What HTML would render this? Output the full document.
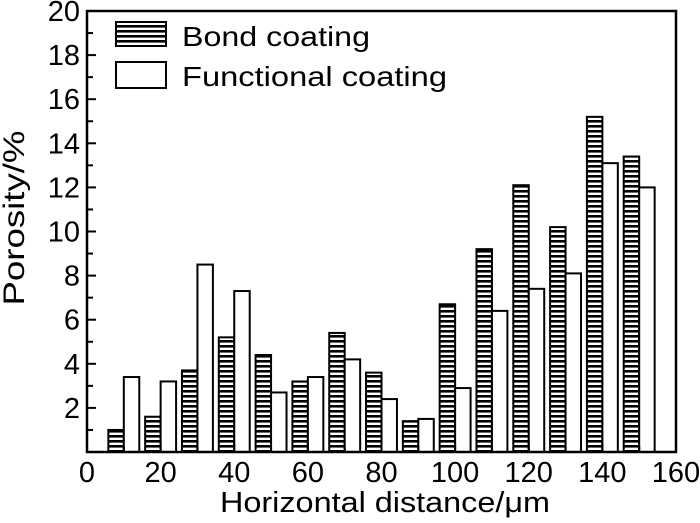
<!DOCTYPE html>
<html><head><meta charset="utf-8"><style>
html,body{margin:0;padding:0;background:#fff;}
svg{display:block;font-family:"Liberation Sans",Arial,sans-serif;}
</style></head><body>
<svg id="chart" width="700" height="523" viewBox="0 0 700 523" xmlns="http://www.w3.org/2000/svg">
<defs>
<pattern id="hatch" width="6" height="5" patternUnits="userSpaceOnUse">
<rect width="6" height="5" fill="#fff"/><rect y="0" width="6" height="2.6" fill="#000"/>
</pattern>
</defs>
<g id="bars"></g>
<g id="axes"></g>
<text x="220" y="512" font-size="29" textLength="330" lengthAdjust="spacingAndGlyphs">Horizontal distance/μm</text>
<text transform="translate(24,218) rotate(-90)" font-size="30" text-anchor="middle" textLength="175" lengthAdjust="spacingAndGlyphs">Porosity/%</text>
<g>
<rect x="116" y="22" width="50" height="24" fill="url(#hatch)" stroke="#000" stroke-width="2"/>
<text x="182" y="46" font-size="28" textLength="188" lengthAdjust="spacingAndGlyphs">Bond coating</text>
<rect x="116" y="62" width="50" height="26" fill="#fff" stroke="#000" stroke-width="2"/>
<text x="182" y="86" font-size="28" textLength="265" lengthAdjust="spacingAndGlyphs">Functional coating</text>
</g>
</svg>
<script>
const categories=[10,20,30,40,50,60,70,80,90,100,110,120,130,140,150];
const bondValues=[1.0,1.6,3.7,5.2,4.4,3.2,5.4,3.6,1.4,6.7,9.2,12.1,10.2,15.2,13.4];
const functionalValues=[3.4,3.2,8.5,7.3,2.7,3.4,4.2,2.4,1.5,2.9,6.4,7.4,8.1,13.1,12.0];
const xTicks=[0,20,40,60,80,100,120,140,160];
const yTicks=[2,4,6,8,10,12,14,16,18,20];
const NS="http://www.w3.org/2000/svg";
const X0=87,X1=676,Y0=452,Y1=11;
const xs=v=>X0+(v/160)*(X1-X0);
const ys=v=>Y0-(v/20)*(Y0-Y1);
const bw=4.2;
const bars=document.getElementById('bars');
function mk(tag,attrs,parent){const e=document.createElementNS(NS,tag);for(const k in attrs)e.setAttribute(k,attrs[k]);parent.appendChild(e);return e;}
categories.forEach((c,i)=>{
  const b=mk('rect',{x:xs(c-bw),y:ys(bondValues[i]),width:xs(c)-xs(c-bw),height:Y0-ys(bondValues[i]),fill:'url(#hatch)',stroke:'#000','stroke-width':2},bars);
  
  
  const f=mk('rect',{x:xs(c),y:ys(functionalValues[i]),width:xs(c+bw)-xs(c),height:Y0-ys(functionalValues[i]),fill:'#fff',stroke:'#000','stroke-width':2},bars);
  
  
});
const ax=document.getElementById('axes');
const frame=mk('rect',{x:X0,y:Y1,width:X1-X0,height:Y0-Y1,fill:'none',stroke:'#000','stroke-width':2.5},ax);


for(let v=1;v<20;v++){
  const len=v%2===0?9:6;
  mk('line',{x1:X0,x2:X0+len,y1:ys(v),y2:ys(v),stroke:'#000','stroke-width':2},ax);
}
for(let v=10;v<160;v+=10){
  const len=v%20===0?9:6;
  mk('line',{x1:xs(v),x2:xs(v),y1:Y0,y2:Y0-len,stroke:'#000','stroke-width':2},ax);
}
yTicks.forEach(v=>{
  const t=mk('text',{x:X0-7,y:ys(v)+10,'font-size':29,'text-anchor':'end'},ax);
  t.textContent=v;
  
  
});
xTicks.forEach(v=>{
  const t=mk('text',{x:xs(v),y:Y0+30,'font-size':29,'text-anchor':'middle'},ax);
  t.textContent=v;
  
  
});
</script>
</body></html>
